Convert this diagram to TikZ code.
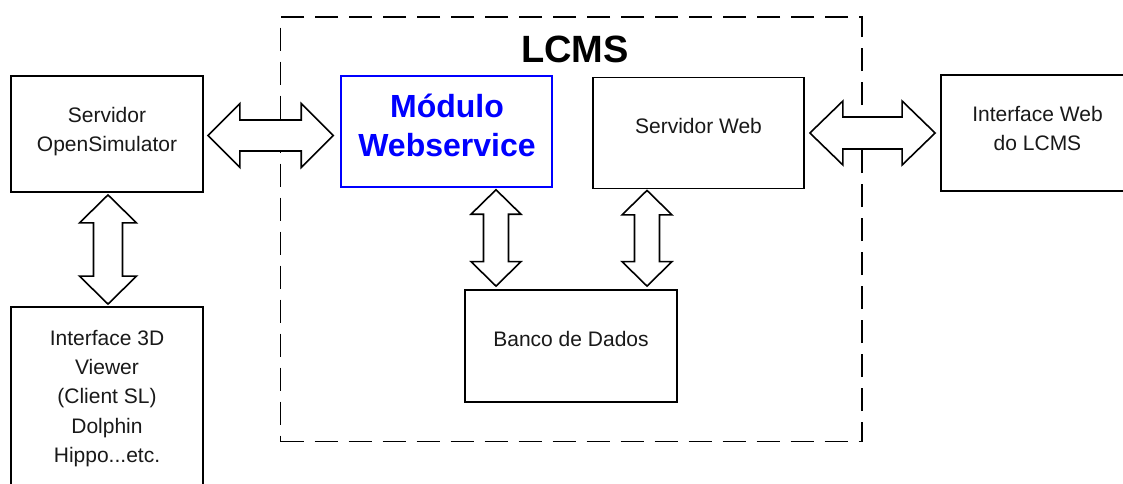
\documentclass[tikz,border=0pt]{standalone}
\usepackage{fontspec}
\setmainfont{Liberation Sans}
\usetikzlibrary{calc}

% Hollow double-headed block arrows between two tip points.
% #1 first tip, #2 second tip, #3 head length, #4 head half-width, #5 shaft half-width
\newcommand\fatarrowh[5]{%
  \draw[fatarrow] let \p1=(#1), \p2=(#2) in
    (\x1,\y1) -- (\x1+#3pt,\y1+#4pt) -- (\x1+#3pt,\y1+#5pt) -- (\x2-#3pt,\y1+#5pt)
    -- (\x2-#3pt,\y1+#4pt) -- (\x2,\y1) -- (\x2-#3pt,\y1-#4pt) -- (\x2-#3pt,\y1-#5pt)
    -- (\x1+#3pt,\y1-#5pt) -- (\x1+#3pt,\y1-#4pt) -- cycle;}
\newcommand\fatarrowv[5]{%
  \draw[fatarrow] let \p1=(#1), \p2=(#2) in
    (\x1,\y1) -- (\x1+#4pt,\y1-#3pt) -- (\x1+#5pt,\y1-#3pt) -- (\x1+#5pt,\y2+#3pt)
    -- (\x1+#4pt,\y2+#3pt) -- (\x1,\y2) -- (\x1-#4pt,\y2+#3pt) -- (\x1-#5pt,\y2+#3pt)
    -- (\x1-#5pt,\y1-#3pt) -- (\x1-#4pt,\y1-#3pt) -- cycle;}

\begin{document}
\begin{tikzpicture}[x=1pt,y=-1pt,
  box/.style={draw=black, line width=1.8pt, rectangle, inner sep=0pt},
  bluebox/.style={draw=blue, line width=1.5pt, rectangle, inner sep=0pt},
  groupbox/.style={draw=black, line width=1.8pt, rectangle, inner sep=0pt,
                   dash pattern=on 23pt off 11pt},
  lbl/.style={font=\fontsize{21}{29.3}\selectfont, align=center, inner sep=0pt, text=black!90},
  bluelbl/.style={font=\fontsize{32}{38.6}\selectfont\bfseries, align=center, inner sep=0pt, text=blue},
  titlelbl/.style={font=\fontsize{38}{42}\selectfont\bfseries, inner sep=0pt, text=black},
  fatarrow/.style={draw=black, fill=white, line width=1.6pt, line join=miter}]

\useasboundingbox (0,0) rectangle (1123,483);
\clip (0,0) rectangle (1123,483);
\fill[white] (0,0) rectangle (1123,483);

% LCMS group
\node[groupbox, minimum width=581.5pt, minimum height=424.5pt] (lcms) at (571.25,229.25) {};
\node[titlelbl, anchor=base] (lcmsT) at (575,62) {LCMS};

% boxes
\node[box, minimum width=192pt, minimum height=116pt] (osim) at (107,134) {};
\node[bluebox, minimum width=211pt, minimum height=111pt] (mod) at (446.5,131.5) {};
\node[box, minimum width=211pt, minimum height=111pt] (sweb) at (698.5,133) {};
\node[box, minimum width=193pt, minimum height=116pt] (iweb) at (1037.5,133) {};
\node[box, minimum width=192pt, minimum height=213pt] (iface) at (107,413.5) {};
\node[box, minimum width=212pt, minimum height=112pt] (db) at (571,346) {};

% box texts
\node[lbl] (osimT) at (107,131.3) {Servidor\\OpenSimulator};
\node[bluelbl] (modT) at (447,125.5) {Módulo\\Webservice};
\node[lbl, anchor=base] (swebT) at (698.5,133) {Servidor Web};
\node[lbl] (iwebT) at (1037.5,128.4) {Interface Web\\do LCMS};
\node[lbl] (ifaceT) at (107,398.5) {Interface 3D\\Viewer\\(Client SL)\\Dolphin\\Hippo...etc.};
\node[lbl, anchor=base] (dbT) at (571,346) {Banco de Dados};

% arrow tips
\coordinate (a1s) at ($(osim.east)+(4,1.5)$);
\coordinate (a1e) at ($(mod.west)+(-7,4)$);
\coordinate (a2s) at ($(sweb.east)+(5,0)$);
\coordinate (a2e) at ($(iweb.west)+(-5,0)$);
\coordinate (a3s) at ($(osim.south)+(1,2)$);
\coordinate (a3e) at ($(iface.north)+(1,-2)$);
\coordinate (a4x) at ($(db.north)+(-75,0)$);
\coordinate (a4s) at ($(a4x |- mod.south)+(0,2)$);
\coordinate (a4e) at ($(a4x)+(0,-3)$);
\coordinate (a5x) at ($(db.north)+(76,0)$);
\coordinate (a5s) at ($(a5x |- sweb.south)+(0,1)$);
\coordinate (a5e) at ($(a5x)+(0,-3)$);

% double block arrows
\fatarrowh{a1s}{a1e}{32}{32}{15.5}
\fatarrowh{a2s}{a2e}{33}{32}{16}
\fatarrowv{a3s}{a3e}{28}{28.5}{14.5}
\fatarrowv{a4s}{a4e}{24.5}{25}{12.5}
\fatarrowv{a5s}{a5e}{24.5}{25}{12.5}
\end{tikzpicture}
\end{document}
